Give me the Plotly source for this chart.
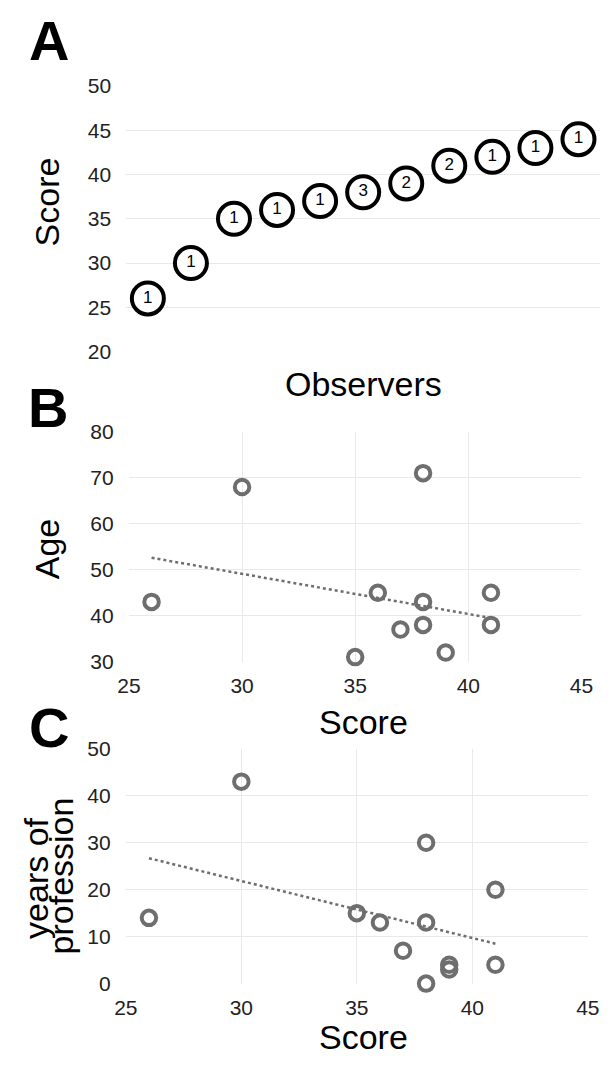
import plotly.graph_objects as go

# ---- Data ----
obs_index = [1, 2, 3, 4, 5, 6, 7, 8, 9, 10, 11]
obs_score = [26, 30, 35, 36, 37, 38, 39, 41, 42, 43, 44]
obs_count = ["1", "1", "1", "1", "1", "3", "2", "2", "1", "1", "1"]

age_score = [26, 30, 35, 36, 37, 38, 38, 38, 39, 41, 41]
age_value = [43, 68, 31, 45, 37, 71, 43, 38, 32, 45, 38]
age_trend_x = [26, 41]
age_trend_y = [52.6, 39.5]

yrs_score = [26, 30, 35, 36, 37, 38, 38, 38, 39, 39, 41, 41]
yrs_value = [14, 43, 15, 13, 7, 30, 13, 0, 4, 3, 20, 4]
yrs_trend_x = [26, 41]
yrs_trend_y = [26.7, 8.5]

W, H = 612, 1067
FONT = "Liberation Sans, Arial, sans-serif"
GREY = "#6e6e6e"
GRID = "#e9e9e9"
TICKC = "#222222"


def px(x):
    return x / W


def py(y):
    return 1 - y / H


fig = go.Figure()

# Panel A
fig.add_trace(go.Scatter(
    x=obs_index, y=obs_score, mode="markers+text", text=obs_count,
    textposition="middle center", textfont=dict(family=FONT, size=17, color="black"),
    marker=dict(size=32, color="white", line=dict(color="black", width=4)),
    xaxis="x", yaxis="y", cliponaxis=False, showlegend=False))

# Panel B
fig.add_trace(go.Scatter(
    x=age_trend_x, y=age_trend_y, mode="lines",
    line=dict(color=GREY, width=2.5, dash="dot"),
    xaxis="x2", yaxis="y2", showlegend=False))
fig.add_trace(go.Scatter(
    x=age_score, y=age_value, mode="markers",
    marker=dict(size=14.5, color="rgba(0,0,0,0)", line=dict(color=GREY, width=4)),
    xaxis="x2", yaxis="y2", cliponaxis=False, showlegend=False))

# Panel C
fig.add_trace(go.Scatter(
    x=yrs_trend_x, y=yrs_trend_y, mode="lines",
    line=dict(color=GREY, width=2.5, dash="dot"),
    xaxis="x3", yaxis="y3", showlegend=False))
fig.add_trace(go.Scatter(
    x=yrs_score, y=yrs_value, mode="markers",
    marker=dict(size=14.5, color="rgba(0,0,0,0)", line=dict(color=GREY, width=4)),
    xaxis="x3", yaxis="y3", cliponaxis=False, showlegend=False))

tickfont = dict(family=FONT, size=21, color=TICKC)
yax_common = dict(showgrid=True, gridcolor=GRID, gridwidth=1, zeroline=False,
                  showline=False, ticks="outside", ticklen=10,
                  tickcolor="rgba(0,0,0,0)", tickfont=tickfont)
xax_common = dict(showgrid=True, gridcolor=GRID, gridwidth=1, zeroline=False,
                  showline=False, ticks="outside", ticklen=5,
                  tickcolor="rgba(0,0,0,0)", tickfont=tickfont)

fig.update_layout(
    width=W, height=H, margin=dict(l=0, r=0, t=0, b=0),
    paper_bgcolor="white", plot_bgcolor="white",
    font=dict(family=FONT),
    xaxis=dict(domain=[px(119), 1.0], range=[0.5, 11.5], showgrid=False,
               zeroline=False, showticklabels=False, anchor="y"),
    yaxis=dict(domain=[py(347), py(75.7)], range=[20, 50], dtick=5, anchor="x",
               **yax_common),
    xaxis2=dict(domain=[px(121.7), px(592.7)], range=[25, 45], dtick=5, anchor="y2",
                **xax_common),
    yaxis2=dict(domain=[py(664), py(429)], range=[30, 80], dtick=10, anchor="x2",
                **yax_common),
    xaxis3=dict(domain=[px(118.5), px(599.3)], range=[25, 45], dtick=5, anchor="y3",
                **xax_common),
    yaxis3=dict(domain=[py(993), py(753)], range=[0, 50], dtick=10, anchor="x3",
                **yax_common),
)

annots = [
    dict(text="<b>A</b>", x=38, y=29, size=56),
    dict(text="<b>B</b>", x=37, y=404, size=56),
    dict(text="<b>C</b>", x=39, y=731, size=56),
    dict(text="Observers", x=366, y=380, size=34),
    dict(text="Score", x=366, y=726, size=34),
    dict(text="Score", x=366, y=1048, size=34),
]
for a in annots:
    fig.add_annotation(text=a["text"], x=px(a["x"]), y=py(a["y"]), xref="paper",
                       yref="paper", showarrow=False, xanchor="center",
                       yanchor="middle", font=dict(family=FONT, size=a["size"],
                                                   color="black"))

ytitles = [
    dict(text="Score", x=36, y=194),
    dict(text="Age", x=36.5, y=549),
    dict(text="years of", x=25, y=886),
    dict(text="profession", x=51, y=883.5),
]
for a in ytitles:
    fig.add_annotation(text=a["text"], x=px(a["x"]), y=py(a["y"]), xref="paper",
                       yref="paper", showarrow=False, xanchor="center",
                       yanchor="middle", textangle=-90,
                       font=dict(family=FONT, size=34, color="black"))

fig.write_html(
    "out.html",
    config={"displayModeBar": False},
    post_script="document.body.style.margin='0';document.body.style.padding='0';"
                "document.body.style.overflow='hidden';",
)
